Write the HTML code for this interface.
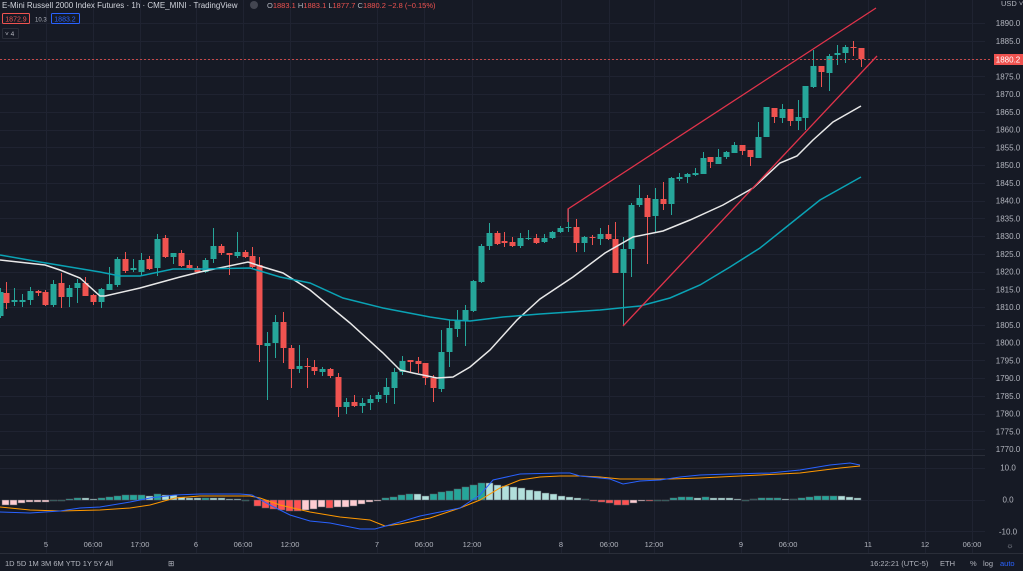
<!DOCTYPE html>
<html><head><meta charset="utf-8"><style>
html,body{margin:0;padding:0;background:#161a25;width:1023px;height:571px;overflow:hidden}
svg{display:block}
text{font-family:"Liberation Sans",sans-serif}
</style></head><body>
<svg id="s" width="1023" height="571" xmlns="http://www.w3.org/2000/svg">
<rect width="1023" height="571" fill="#161a25"/>
<g id="grid" stroke="#1f2331" stroke-width="1"></g>
<line x1="0" y1="455.5" x2="985" y2="455.5" stroke="#2a2e39"/>
<line x1="0" y1="553.5" x2="1023" y2="553.5" stroke="#2a2e39"/>
<g id="macd"></g>
<g id="cs"></g>
<line x1="0" y1="59.5" x2="990" y2="59.5" stroke="#ef5350" stroke-dasharray="2,2" stroke-width="1" opacity="0.8"/>
<polyline fill="none" stroke="#e8e8e8" stroke-width="1.5" points="0,260 45,265 60,270 80,278 100,296 105,296 140,288 180,277 200,272 248,262 260,266 283,273 310,290 350,323 383,353 400,370 413,373 437,378 453,377 470,367 490,350 517,320 540,299 573,277 605,253 633,237 663,231 690,220 723,205 753,188 780,163 797,156 813,140 833,122 861,106"/>
<polyline fill="none" stroke="#0aa3b5" stroke-width="1.5" points="0,255 40,262 100,272 120,276 140,276 173,269 200,269 250,268 260,271 280,277 310,283 343,298 383,308 430,317 450,320 470,321 503,317 540,314 600,310 640,306 670,298 700,285 730,267 760,248 790,224 820,200 861,177"/>
<polyline fill="none" stroke="#e0334a" stroke-width="1.3" points="568,222 568,209 876,8"/>
<line x1="623" y1="326" x2="877" y2="56" stroke="#e0334a" stroke-width="1.3"/>
<polyline fill="none" stroke="#ff9800" stroke-width="1" points="0,507 30,510 60,511 100,510 130,508 150,505 175,498 200,496 250,496 260,498 280,505 310,512 340,517 370,520 385,526 400,524 430,518 460,508 480,500 500,488 520,480 540,477 560,476 580,476 600,477 620,479 640,479 670,479 700,478 740,476 780,474 800,473 840,468 860,466"/>
<polyline fill="none" stroke="#2962ff" stroke-width="1" points="0,512 30,513 60,511 80,508 100,507 130,502 150,498 175,495 200,494 240,494 252,495 270,505 290,515 310,521 330,523 360,529 375,529 400,522 420,516 440,512 460,508 480,495 493,480 520,474 560,473 570,473 580,476 600,478 610,479 623,484 640,481 660,480 680,477 700,475 730,474 770,473 800,470 830,465 850,463 860,465"/>
<g font-size="8" fill="#b2b5be" id="ax"></g>
<rect x="994" y="54" width="29" height="11" fill="#ef5350"/>
<text x="1008" y="62.5" font-size="8" fill="#fff" text-anchor="middle">1880.2</text>
<text x="1001" y="6" font-size="7.5" fill="#b2b5be">USD ˅</text>
<text x="1008" y="470.5" font-size="8" fill="#b2b5be" text-anchor="middle">10.0</text>
<text x="1008" y="502.5" font-size="8" fill="#b2b5be" text-anchor="middle">0.0</text>
<text x="1008" y="534.5" font-size="8" fill="#b2b5be" text-anchor="middle">-10.0</text>
<g font-size="7.5" fill="#b2b5be" text-anchor="middle">
<text x="46" y="547">5</text><text x="93" y="547">06:00</text><text x="140" y="547">17:00</text><text x="196" y="547">6</text><text x="243" y="547">06:00</text><text x="290" y="547">12:00</text><text x="377" y="547">7</text><text x="424" y="547">06:00</text><text x="472" y="547">12:00</text><text x="561" y="547">8</text><text x="609" y="547">06:00</text><text x="654" y="547">12:00</text><text x="741" y="547">9</text><text x="788" y="547">06:00</text><text x="868" y="547">11</text><text x="925" y="547">12</text><text x="972" y="547">06:00</text>
<text x="1010" y="548">☼</text>
</g>
<g font-size="7.5" fill="#b2b5be">
<text x="5" y="566">1D  5D  1M  3M  6M  YTD  1Y  5Y  All</text>
<text x="168" y="566">⊞</text>
<text x="870" y="566">16:22:21 (UTC-5)</text>
<text x="940" y="566">ETH</text>
<text x="970" y="566">%</text><text x="983" y="566">log</text>
<text x="1000" y="566" fill="#2962ff">auto</text>
</g>
<text x="2" y="8" font-size="8" fill="#d1d4dc">E-Mini Russell 2000 Index Futures · 1h · CME_MINI · TradingView</text>
<circle cx="254" cy="5" r="4" fill="#434651"/>
<text x="267" y="8" font-size="7.5" fill="#ef5350"><tspan fill="#b2b5be">O</tspan>1883.1 <tspan fill="#b2b5be">H</tspan>1883.1 <tspan fill="#b2b5be">L</tspan>1877.7 <tspan fill="#b2b5be">C</tspan>1880.2 −2.8 (−0.15%)</text>
<rect x="2.5" y="13.5" width="27" height="10" fill="none" stroke="#ef5350" rx="1"/>
<text x="16" y="21.5" font-size="7" fill="#ef5350" text-anchor="middle">1872.9</text>
<text x="35" y="21.5" font-size="6" fill="#b2b5be">10.3</text>
<rect x="51.5" y="13.5" width="28" height="10" fill="none" stroke="#2962ff" rx="1"/>
<text x="65" y="21.5" font-size="7" fill="#2962ff" text-anchor="middle">1883.2</text>
<rect x="2.5" y="28.5" width="16" height="10" fill="none" stroke="#2a2e39" rx="1"/>
<text x="5" y="36" font-size="6.5" fill="#b2b5be">˅ 4</text>
</svg>
<script>
var NS="http://www.w3.org/2000/svg";
function el(p,t,a){var e=document.createElementNS(NS,t);for(var k in a)e.setAttribute(k,a[k]);p.appendChild(e);return e;}
var g=document.getElementById('grid'),ax=document.getElementById('ax');
[46,93,140,196,243,290,377,424,472,561,609,654,741,788,868,925,972].forEach(function(x){el(g,'line',{x1:x+.5,y1:0,x2:x+.5,y2:553});});
for(var k=0;k<=24;k++){var y=23+k*17.75,p=1890-5*k;el(g,'line',{x1:0,y1:Math.round(y)+.5,x2:985,y2:Math.round(y)+.5});
 if(Math.abs(y-59)>6){var t=el(ax,'text',{x:1008,y:y+3,'text-anchor':'middle'});t.textContent=p.toFixed(1);}}
[468,500,531].forEach(function(y){el(g,'line',{x1:0,y1:y+.5,x2:985,y2:y+.5});});
// x, top, bot, hi, lo, green
var C=[[0,292,316,288,318,1],[6,293,303,282,309,0],[14,300,302,288,306,1],[22,300,302,294,307,1],[30,291,300,287,305,1],[38,291,293,290,296,0],[45,292,305,290,306,0],[53,284,305,280,307,1],[61,283,297,273,308,0],[69,288,297,285,307,1],[77,283,288,279,303,1],[85,283,296,277,296,0],[93,295,302,294,305,0],[101,289,302,288,308,1],[109,284,290,267,290,1],[117,259,285,257,287,1],[125,259,271,252,273,0],[133,268,270,259,272,1],[141,260,272,253,275,1],[149,259,269,256,270,0],[157,239,268,234,276,1],[165,238,257,235,258,0],[173,253,257,253,264,1],[181,253,266,250,267,0],[189,265,268,260,269,0],[197,268,272,266,273,0],[205,260,272,258,273,1],[213,246,259,228,263,1],[221,246,253,244,255,0],[229,253,255,253,275,0],[237,252,256,232,258,1],[245,252,257,250,258,0],[252,256,267,247,268,0],[259,265,345,257,362,0],[267,343,346,332,400,1],[275,322,343,315,358,1],[283,322,348,312,363,0],[291,348,369,345,388,0],[299,366,369,345,373,1],[307,366,367,358,388,0],[314,367,371,360,375,0],[322,369,372,367,376,1],[330,369,376,368,378,0],[338,377,407,373,417,0],[346,402,407,398,414,1],[354,402,406,395,407,0],[362,403,406,398,413,1],[370,399,403,395,410,1],[378,395,399,392,402,1],[386,387,395,378,403,1],[394,372,388,368,404,1],[402,361,372,356,375,1],[410,360,362,360,373,0],[418,361,364,357,373,0],[425,363,378,363,385,0],[433,378,388,375,402,0],[441,352,389,330,392,1],[449,328,352,320,367,1],[457,321,329,310,337,1],[465,310,321,305,346,1],[473,281,311,280,312,1],[481,246,282,244,283,1],[489,233,246,223,250,1],[497,233,244,231,245,0],[504,241,243,232,247,0],[512,242,246,237,247,0],[520,238,246,233,248,1],[528,238,239,230,240,1],[536,238,243,234,244,0],[544,238,242,234,243,1],[552,232,238,231,239,1],[560,228,232,226,233,1],[568,227,228,209,232,1],[576,227,243,219,252,0],[584,237,243,236,252,1],[592,237,238,235,245,0],[600,234,239,228,245,1],[608,234,239,225,240,0],[615,239,273,222,273,0],[623,249,273,237,326,1],[631,205,249,203,277,1],[639,198,205,185,207,1],[647,198,217,195,264,0],[655,199,216,188,232,1],[663,199,204,182,210,0],[671,178,204,177,215,1],[679,177,179,173,181,1],[687,174,177,173,183,1],[695,173,175,168,176,1],[703,158,174,152,174,1],[710,157,162,157,168,0],[718,157,164,149,164,1],[726,152,157,151,159,1],[734,145,153,142,153,1],[742,145,151,145,155,0],[750,150,157,150,166,0],[758,137,158,122,158,1],[766,107,137,107,137,1],[774,108,117,108,123,0],[782,109,118,104,123,1],[790,109,121,109,126,0],[798,117,121,100,130,1],[805,86,118,86,130,1],[813,66,87,50,88,1],[821,66,72,66,87,0],[829,56,73,54,91,1],[837,53,55,45,65,1],[845,47,53,45,63,1],[853,47,48,41,56,0],[861,48,59,48,67,0]];
var cs=document.getElementById('cs');
C.forEach(function(c){var col=c[5]?'#26a69a':'#ef5350';
 el(cs,'line',{x1:c[0]+.5,y1:c[3],x2:c[0]+.5,y2:c[4],stroke:col,'stroke-width':1});
 el(cs,'rect',{x:c[0]-2.5,y:c[1],width:6,height:Math.max(1,c[2]-c[1]),fill:col});});
// macd histogram: [x, yEnd, type] type:0 pink,1 red,2 teal,3 light,4 dark
var H=[[2,505,0],[10,505,0],[18,503,0],[26,502,0],[34,502,0],[42,502,0],[50,501,4],[58,500,4],[66,499,2],[74,498,2],[82,498,3],[90,499,3],[98,498,2],[106,497,2],[114,496,2],[122,495,2],[130,495,2],[138,495,2],[146,496,3],[154,494,2],[162,495,3],[170,495,3],[178,497,3],[186,498,3],[194,498,3],[202,498,2],[210,498,3],[218,498,3],[226,499,3],[234,499,3],[242,500,4],[254,506,1],[262,508,1],[270,509,1],[278,510,1],[286,511,1],[294,511,1],[302,510,0],[310,509,0],[318,507,0],[326,508,1],[334,507,0],[342,507,0],[350,506,0],[358,504,0],[366,502,0],[374,501,0],[382,498,2],[390,497,2],[398,495,2],[406,494,2],[414,494,3],[422,496,3],[430,494,2],[438,492,2],[446,491,2],[454,489,2],[462,487,2],[470,485,2],[478,483,2],[486,483,3],[494,485,3],[502,486,3],[510,487,3],[518,488,3],[526,490,3],[534,491,3],[542,493,3],[550,494,3],[558,496,3],[566,497,3],[574,498,3],[582,499,4],[590,501,1],[598,502,1],[606,503,1],[614,505,1],[622,505,1],[630,503,0],[638,501,0],[646,501,1],[654,500,4],[662,500,4],[670,498,2],[678,497,2],[686,497,2],[694,498,3],[702,497,2],[710,498,3],[718,498,3],[726,498,3],[734,499,3],[742,500,4],[750,499,4],[758,498,2],[766,498,2],[774,498,2],[782,499,3],[790,499,4],[798,498,2],[806,497,2],[814,496,2],[822,496,2],[830,496,2],[838,496,3],[846,497,3],[854,498,3]];
var cols=['#ffcdd2','#ff5252','#26a69a','#b2dfdb','#1a5c56'];
var m=document.getElementById('macd');
H.forEach(function(h){var y0=500,y1=h[1];el(m,'rect',{x:h[0],y:Math.min(y0,y1),width:7,height:Math.max(1,Math.abs(y1-y0)),fill:cols[h[2]],stroke:'#555a63','stroke-width':0.5});});
</script>
</body></html>
